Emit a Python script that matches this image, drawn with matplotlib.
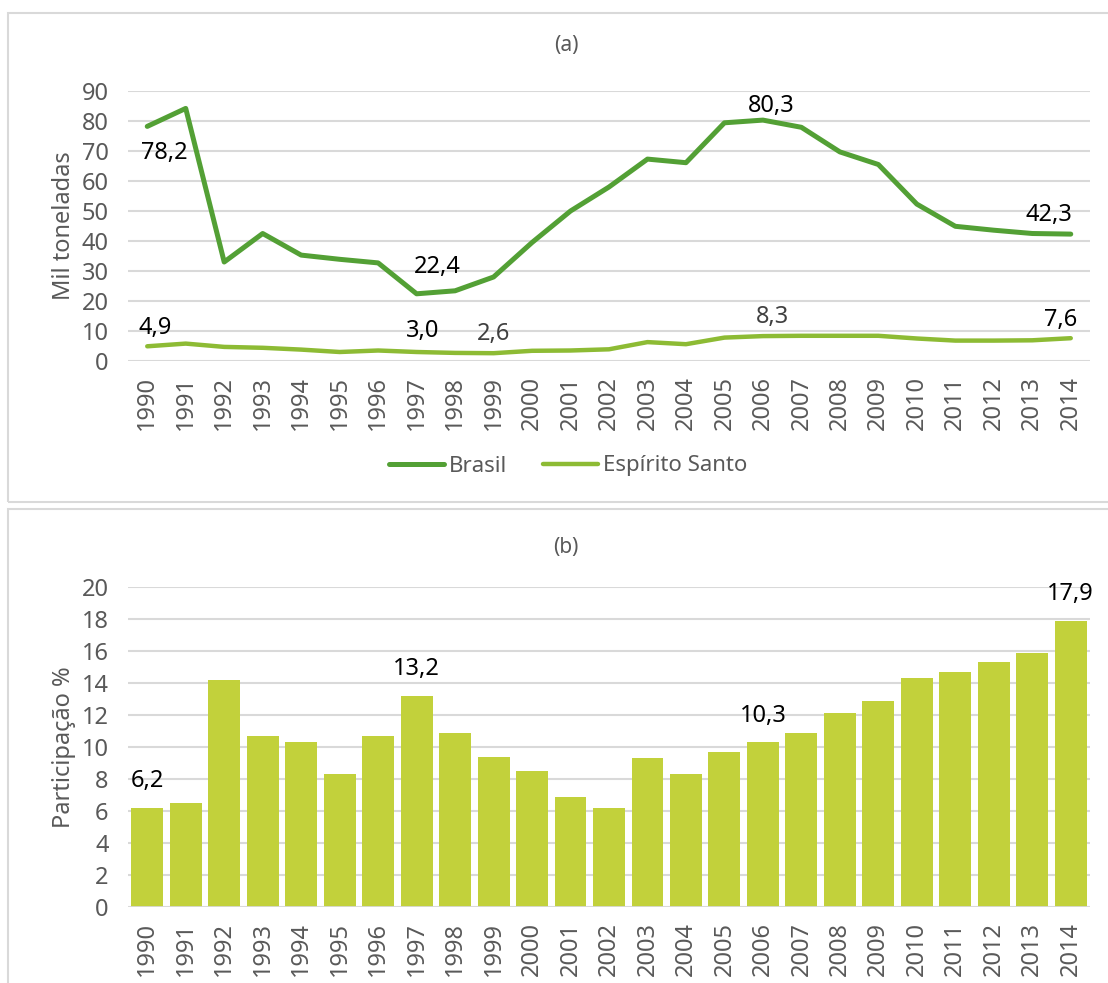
import matplotlib
matplotlib.use("Agg")
import matplotlib.pyplot as plt
from matplotlib.patches import Rectangle

# --- DATA ---
years = [str(y) for y in range(1990, 2015)]
brasil = [78.2, 84.2, 33.0, 42.5, 35.3, 33.9, 32.7, 22.4, 23.4, 28.0,
          39.5, 50.0, 58.0, 67.3, 66.1, 79.4, 80.3, 77.9, 69.7, 65.5,
          52.3, 44.9, 43.6, 42.5, 42.3]
espirito_santo = [4.9, 5.8, 4.7, 4.4, 3.8, 3.0, 3.5, 3.0, 2.7, 2.6,
                  3.4, 3.5, 3.9, 6.3, 5.6, 7.8, 8.3, 8.4, 8.4, 8.4,
                  7.5, 6.8, 6.8, 6.9, 7.6]
participacao = [6.2, 6.5, 14.2, 10.7, 10.3, 8.3, 10.7, 13.2, 10.9, 9.4,
                8.5, 6.9, 6.2, 9.3, 8.3, 9.7, 10.3, 10.9, 12.1, 12.9,
                14.3, 14.7, 15.3, 15.9, 17.9]

# which points get a label, and the text offset in points
line_labels_br = {1990: (12, -19), 1997: (15, 19), 2006: (6, 10), 2014: (-16, 14)}
line_labels_es = {1990: (6, 13), 1997: (4, 15), 1999: (0, 14), 2006: (7, 14), 2014: (-7, 13)}
bar_labels = [1990, 1997, 2006, 2014]

# --- STYLE ---
FONT = ["Noto Sans", "DejaVu Sans"]
plt.rcParams['font.family'] = FONT
GRAY_TXT = "#595959"
GRID = "#D9D9D9"
C_BR = "#53A035"
C_ES = "#8DBB34"
C_BAR = "#C2D13B"

W, H = 1108, 983
fig = plt.figure(figsize=(W / 100, H / 100), dpi=100)


def fx(px):
    return px / W


def fy(py):
    return 1 - py / H


# panel frames
fig.add_artist(Rectangle((fx(8), fy(502)), fx(1130), fy(13) - fy(502),
                         transform=fig.transFigure, fill=False,
                         edgecolor="#D9D9D9", linewidth=1.5))
fig.add_artist(Rectangle((fx(8), fy(1000)), fx(1130), fy(509) - fy(1000),
                         transform=fig.transFigure, fill=False,
                         edgecolor="#D9D9D9", linewidth=1.5))


def style_axes(ax):
    for s in ax.spines.values():
        s.set_visible(False)
    ax.grid(axis='y', color=GRID, linewidth=1.5)
    ax.set_axisbelow(True)
    ax.tick_params(axis='both', length=0, colors=GRAY_TXT, labelsize=17)
    ax.tick_params(axis='y', pad=14)
    ax.tick_params(axis='x', pad=11, rotation=90)
    ax.set_xlim(-0.5, len(years) - 0.5)


# --- (a) line chart ---
ax1 = fig.add_axes([fx(128), fy(361), fx(1090) - fx(128), fy(91) - fy(361)])
x = list(range(len(years)))
ax1.plot(x, brasil, color=C_BR, linewidth=3.6, label="Brasil", solid_capstyle='round')
ax1.plot(x, espirito_santo, color=C_ES, linewidth=3.2, label="Espírito Santo",
         solid_capstyle='round')
ax1.set_ylim(0, 90)
ax1.set_yticks(range(0, 91, 10))
ax1.set_xticks(x)
ax1.set_xticklabels(years)
style_axes(ax1)
ax1.set_ylabel("Mil toneladas", color=GRAY_TXT, fontsize=17, labelpad=4)

for yr, off in line_labels_br.items():
    i = yr - 1990
    ax1.annotate(f"{brasil[i]:.1f}".replace(".", ","), (i, brasil[i]),
                 xytext=off, textcoords='offset points', ha='center', va='center',
                 fontsize=17, color="black")
for yr, off in line_labels_es.items():
    i = yr - 1990
    col = "#404040" if yr in (1999, 2006) else "black"
    ax1.annotate(f"{espirito_santo[i]:.1f}".replace(".", ","), (i, espirito_santo[i]),
                 xytext=off, textcoords='offset points', ha='center', va='center',
                 fontsize=17, color=col)

leg = fig.legend(loc='center', bbox_to_anchor=(fx(568), fy(466)), ncol=2, frameon=False,
                 fontsize=16, handlelength=2.5, handletextpad=0.2, columnspacing=1.6)
for t in leg.get_texts():
    t.set_color(GRAY_TXT)

fig.text(fx(566), fy(46), "(a)", ha='center', va='center', fontsize=15, color=GRAY_TXT)

# --- (b) bar chart ---
ax2 = fig.add_axes([fx(128), fy(907), fx(1090) - fx(128), fy(587) - fy(907)])
ax2.bar(x, participacao, width=0.83, color=C_BAR)
ax2.set_ylim(0, 20)
ax2.set_yticks(range(0, 21, 2))
ax2.set_xticks(x)
ax2.set_xticklabels(years)
style_axes(ax2)
ax2.axhline(0, color=GRID, linewidth=2)
ax2.set_ylabel("Participação %", color=GRAY_TXT, fontsize=17, labelpad=4)

for yr in bar_labels:
    i = yr - 1990
    ax2.annotate(f"{participacao[i]:.1f}".replace(".", ","), (i, participacao[i]),
                 xytext=(0, 19), textcoords='offset points', ha='center', va='center',
                 fontsize=17, color="black")

fig.text(fx(566), fy(547), "(b)", ha='center', va='center', fontsize=15, color=GRAY_TXT)

fig.savefig("out.png", dpi=100)
